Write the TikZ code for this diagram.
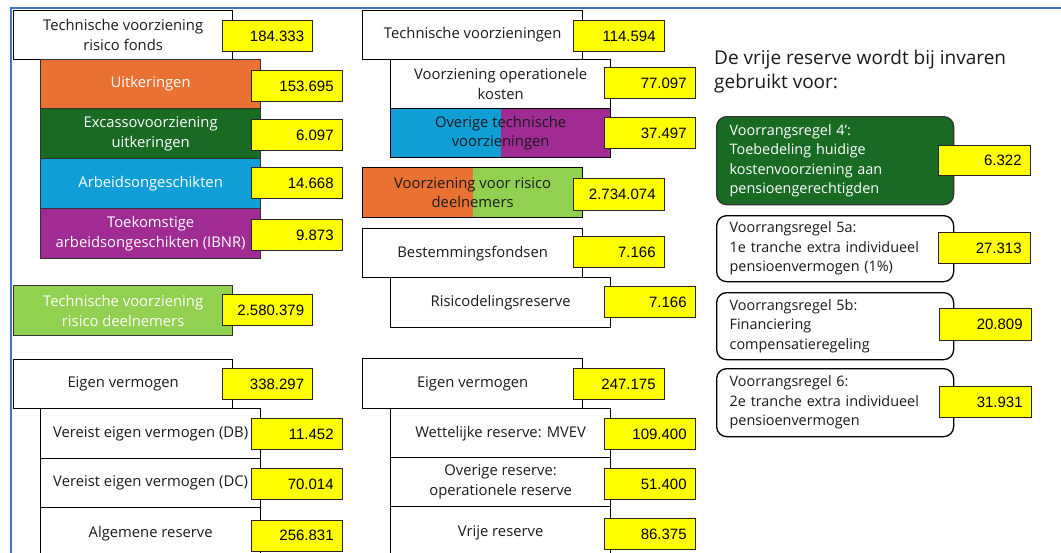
\documentclass[tikz,border=0pt]{standalone}
\usepackage{fontspec}
\setmainfont{Open Sans}
\newfontfamily\numfont{Liberation Sans}
\definecolor{framblue}{HTML}{4472C4}
\definecolor{acorange}{HTML}{E97132}
\definecolor{acdkgreen}{HTML}{196B24}
\definecolor{acblue}{HTML}{0F9ED5}
\definecolor{acpurple}{HTML}{A02B93}
\definecolor{aclime}{HTML}{92D050}
\definecolor{valyellow}{HTML}{FFFF00}
\definecolor{ink}{HTML}{1A1A1A}
\tikzset{
  lbl/.style={font=\fontsize{14.8}{19.8}\selectfont, align=center, inner sep=0pt,
    anchor=north west, line width=1.3pt},
  whitebox/.style={lbl, draw=black, fill=white, text=ink},
  colbox/.style={lbl, draw=black!80, fill=#1, text=white},
  mainw/.style={minimum width=219pt, minimum height=49pt},
  subw/.style={minimum width=220pt, minimum height=50pt},
  halfleft/.style={path picture={\fill[#1] (path picture bounding box.south west)
      rectangle (path picture bounding box.north);}},
  val/.style={draw=black!85, fill=valyellow, line width=1.3pt, anchor=north west,
    inner sep=0pt, minimum height=31pt, minimum width=91pt, text width=73pt,
    align=right, text=black, font=\numfont\fontsize{15}{18}\selectfont},
  rulebox/.style={lbl, font=\fontsize{14.4}{19.5}\selectfont, rounded corners=10pt,
    minimum width=237pt, text width=211pt, align=left},
}
\begin{document}
\begin{tikzpicture}[x=1pt,y=-1pt]
\useasboundingbox (0,0) rectangle (1061,552);
\clip (0,0) rectangle (1061,552);
\fill[white] (0,0) rectangle (1061,552);
% outer frame
\draw[framblue, line width=2pt] (11,8) rectangle (1075,570);

% ---------------- left column: risk fund provisions
\node[whitebox, mainw] (tvrf) at (13,10) {Technische voorziening\\risico fonds};
\node[colbox=acorange, subw, minimum height=49pt] (uitk) at (40,59) {Uitkeringen};
\node[colbox=acdkgreen, subw] (exc) at (40,108) {Excassovoorziening\\uitkeringen};
\node[colbox=acblue, subw] (arb) at (40,158) {Arbeidsongeschikten};
\node[colbox=acpurple, subw] (ibnr) at (40,208) {Toekomstige\\arbeidsongeschikten (IBNR)};
\node[colbox=aclime, mainw, minimum height=50pt] (tvrd) at (13,285) {Technische voorziening\\risico deelnemers};

\node[val, minimum width=90pt] (v_tvrf) at (222,20) {184.333};
\node[val] (v_uitk) at (251,70) {153.695};
\node[val] (v_exc) at (251,119) {6.097};
\node[val] (v_arb) at (251,167) {14.668};
\node[val] (v_ibnr) at (251,219) {9.873};
\node[val, minimum width=90pt] (v_tvrd) at (222,294) {2.580.379};

% ---------------- left column: own funds
\node[whitebox, mainw] (ev1) at (13,359) {Eigen vermogen};
\node[whitebox, subw, minimum height=49.5pt] (vdb) at (40,408) {Vereist eigen vermogen (DB)};
\node[whitebox, subw, minimum height=49.5pt] (vdc) at (40,457.5) {Vereist eigen vermogen (DC)};
\node[whitebox, subw, minimum height=70pt, text depth=22pt] (alg) at (40,507) {Algemene reserve};

\node[val, minimum width=90pt] (v_ev1) at (222,368) {338.297};
\node[val] (v_vdb) at (251,418) {11.452};
\node[val] (v_vdc) at (251,468) {70.014};
\node[val] (v_alg) at (251,519.5) {256.831};

% ---------------- middle column: provisions
\node[whitebox, subw, minimum height=49pt] (tv) at (362,10) {Technische voorzieningen};
\node[whitebox, subw, minimum height=49pt] (vok) at (390,59) {Voorziening operationele\\kosten};
\node[whitebox, subw, minimum height=49pt, fill=acpurple, halfleft=acblue] (otv) at (390,108) {Overige technische\\voorzieningen};
\node[whitebox, subw, fill=aclime, halfleft=acorange] (vrd) at (362,167) {Voorziening voor risico\\deelnemers};
\node[whitebox, subw, minimum height=49pt] (best) at (362,228) {Bestemmingsfondsen};
\node[whitebox, subw] (rdr) at (390,277) {Risicodelingsreserve};

\node[val] (v_tv) at (573,20) {114.594};
\node[val] (v_vok) at (604,67) {77.097};
\node[val] (v_otv) at (604,117) {37.497};
\node[val, minimum height=32pt] (v_vrd) at (573,178) {2.734.074};
\node[val] (v_best) at (573,236) {7.166};
\node[val] (v_rdr) at (604,286) {7.166};

% ---------------- middle column: own funds
\node[whitebox, subw] (ev2) at (362,358) {Eigen vermogen};
\node[whitebox, subw, minimum height=49pt] (wr) at (390,408) {Wettelijke reserve: MVEV};
\node[whitebox, subw, minimum height=49pt] (ovr) at (390,457) {Overige reserve:\\operationele reserve};
\node[whitebox, subw, minimum height=70pt, text depth=22pt] (vrij) at (390,506) {Vrije reserve};

\node[val] (v_ev2) at (573,368) {247.175};
\node[val] (v_wr) at (604,418) {109.400};
\node[val] (v_ovr) at (604,468) {51.400};
\node[val] (v_vrij) at (604,518) {86.375};

% ---------------- right column: use of the free reserve
\node[font=\fontsize{19}{24}\selectfont, align=left, inner sep=0pt, anchor=north west, text=ink]
  (head) at (714,50) {De vrije reserve wordt bij invaren\\gebruikt voor:};

\node[rulebox, draw=black!80, fill=acdkgreen, text=white, minimum height=88pt] (r4) at (716,116)
  {Voorrangsregel 4’:\\Toebedeling huidige\\kostenvoorziening aan\\pensioengerechtigden};
\node[rulebox, draw=black, fill=white, text=ink, minimum height=66pt] (r5a) at (716,215)
  {Voorrangsregel 5a:\\1e tranche extra individueel\\pensioenvermogen (1\%)};
\node[rulebox, draw=black, fill=white, text=ink, minimum height=67pt] (r5b) at (716,292)
  {Voorrangsregel 5b:\\Financiering\\compensatieregeling};
\node[rulebox, draw=black, fill=white, text=ink, minimum height=68pt] (r6) at (716,368)
  {Voorrangsregel 6:\\2e tranche extra individueel\\pensioenvermogen};

\node[val, minimum width=92pt, text width=74pt, minimum height=30pt] (v_r4) at (938,145) {6.322};
\node[val, minimum width=92pt, text width=74pt] (v_r5a) at (938,232) {27.313};
\node[val, minimum width=92pt, text width=74pt, minimum height=32pt] (v_r5b) at (939,308) {20.809};
\node[val, minimum width=92pt, text width=74pt] (v_r6) at (939,386) {31.931};
\end{tikzpicture}
\end{document}
